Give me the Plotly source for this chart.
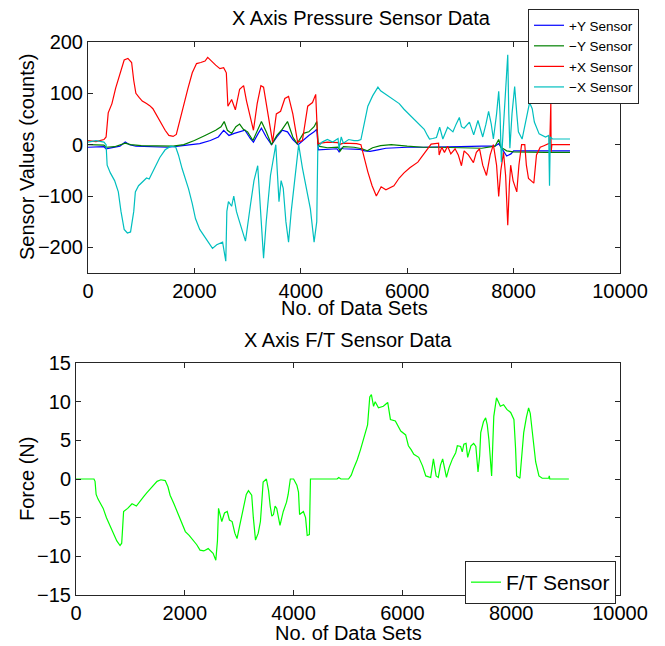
import plotly.graph_objects as go

# ---------------- Pressure sensor traces (counts vs. data set index) ----------------
py_pos_x = [0, 300, 340, 450, 600, 700, 780, 900, 1200, 1500, 1700, 1900, 2100, 2300, 2450, 2550,
            2650, 2750, 2850, 2950, 3050, 3110, 3200, 3260, 3350, 3450, 3550, 3650, 3750, 3850, 3950,
            4050, 4150, 4250, 4300, 4330, 4500, 4680, 4720, 4760, 4800, 5100, 5200, 5300, 5450, 5600,
            5800, 6000, 6300, 6600, 7000, 7400, 7650, 7720, 7780, 7870, 7950, 8000, 8200, 8500, 9060]
py_pos_y = [-5, -4, -8, -6, -3, 5, 0, -3, -4, -5, -3, -1, 2, 8, 15, 28,
            18, 22, 25, 28, 12, 5, 22, 32, 15, 0, 15, 28, 25, 10, 0,
            10, 18, 25, 30, -10, -9, -8, -14, -7, -8, -9, -12, -13, -10, -7,
            -6, -5, -5, -4, -4, -3, -3, 2, -8, -22, -18, -12, -12, -12, -12]

ny_neg_x = [0, 300, 340, 500, 700, 800, 1000, 1300, 1600, 1800, 2000, 2200, 2400, 2500, 2560, 2620,
            2700, 2780, 2850, 2920, 3000, 3100, 3200, 3260, 3350, 3450, 3550, 3650, 3750, 3850, 3930,
            4050, 4150, 4250, 4300, 4330, 4500, 4700, 4740, 4800, 5000, 5150, 5250, 5350, 5500, 5700,
            6000, 6300, 6600, 7000, 7400, 7650, 7720, 7760, 7870, 8000, 8300, 8600, 9060]
ny_neg_y = [0, -1, -5, -4, 3, 0, -2, -3, -3, 0, 8, 18, 28, 35, 45, 28,
            22, 35, 40, 30, 25, 8, 30, 45, 25, 0, 18, 30, 45, 15, 2,
            22, 25, 35, 45, -3, -6, -5, -12, -4, -5, -8, -12, -6, -2, 0,
            -3, -5, -5, -6, -7, -3, 10, -5, -12, -14, -15, -15, -15]

px_pos_x = [0, 150, 300, 340, 380, 450, 520, 600, 680, 750, 820, 860, 900, 960, 1020, 1100, 1160,
            1220, 1300, 1380, 1450, 1520, 1600, 1660, 1720, 1800, 1880, 1960, 2040, 2120, 2200, 2250,
            2320, 2400, 2480, 2550, 2600, 2630, 2700, 2770, 2850, 2925, 2980, 3050, 3110, 3180, 3250,
            3300, 3380, 3470, 3540, 3620, 3700, 3770, 3850, 3940, 4030, 4130, 4220, 4280, 4320, 4500,
            4700, 4720, 4800, 5050, 5130, 5200, 5260, 5340, 5420, 5510, 5600, 5750, 5850, 5940, 6050,
            6200, 6300, 6400, 6450, 6590, 6600, 6650, 6700, 6760, 6820, 6900, 6960, 7020, 7070, 7150,
            7245, 7300, 7360, 7420, 7490, 7560, 7620, 7680, 7720, 7760, 7810, 7850, 7890, 7920, 7945,
            7990, 8060, 8100, 8150, 8210, 8240, 8280, 8380, 8430, 8500, 8570, 8680, 8700, 8705, 8720,
            9060]
px_pos_y = [8, 6, 10, 15, 62, 80, 110, 140, 165, 168, 160, 125, 100, 92, 85, 80, 76,
            70, 55, 40, 28, 18, 16, 20, 45, 80, 110, 140, 158, 160, 163, 170,
            162, 155, 148, 150, 140, 75, 88, 68, 108, 115, 85, 55, 28, 80, 115,
            112, 60, 5, 60, 65, 90, 94, 60, 5, 8, 75, 82, 98, 2, 5,
            4, 0, 3, 2, 0, -30, -53, -80, -100, -82, -88, -80, -65, -55, -45,
            -34, -20, -8, 1, 3, -20, -5, -15, -3, -18, -8, -20, -41, -12, -20,
            -35, -15, -8, -40, -60, -20, 0, -40, -101, -50, -15, -60, -157, -80, -40,
            -70, -92, -40, 0, 0, -40, -66, -75, -20, -5, -2, 3, 82, -14, 0,
            0]

nx_neg_x = [0, 150, 300, 340, 360, 420, 500, 570, 620, 680, 740, 800, 860, 890, 950, 1020, 1100,
            1150, 1220, 1260, 1350, 1450, 1560, 1650, 1700, 1770, 1890, 1960, 2020, 2100, 2210, 2280,
            2340, 2420, 2530, 2590, 2610, 2640, 2700, 2740, 2790, 2830, 2900, 2960, 3050, 3120, 3190,
            3240, 3280, 3300, 3350, 3430, 3530, 3560, 3590, 3630, 3670, 3720, 3770, 3820, 3870, 3960,
            4030, 4100, 4180, 4250, 4300, 4320, 4400, 4500, 4600, 4700, 4720, 4760, 4800, 4900, 5000,
            5075, 5130, 5200, 5260, 5350, 5450, 5500, 5570, 5650, 5760, 5850, 5940, 6030, 6130, 6230,
            6320, 6380, 6420, 6480, 6550, 6610, 6670, 6760, 6860, 6920, 6980, 7020, 7070, 7170, 7250,
            7330, 7380, 7420, 7480, 7530, 7580, 7620, 7680, 7720, 7745, 7770, 7800, 7850, 7890, 7910,
            7930, 7970, 8020, 8060, 8090, 8160, 8230, 8300, 8350, 8390, 8480, 8600, 8660, 8675, 8690,
            8730, 9060]
nx_neg_y = [5, 8, 5, 0, -40, -55, -70, -92, -130, -165, -172, -170, -130, -92, -80, -73, -65,
            -67, -52, -41, -25, -10, -3, -5, -20, -47, -86, -115, -144, -165, -182, -192,
            -202, -195, -190, -227, -130, -111, -120, -100, -130, -144, -170, -188, -120, -70, -41,
            -130, -208, -221, -150, -60, 0, -60, -111, -70, -85, -150, -190, -130, -85, 0,
            -45, -80, -125, -190, -150, -5, 5, 10, 5, 12, -8, 15, 3, 10, 8,
            8, 10, 45, 75, 95, 112, 105, 100, 95, 88, 80, 69, 60, 50, 40,
            30, 18, 11, 12, 14, 34, 11, 34, 25, 40, 53, 35, 32, 44, 19,
            47, 30, 15, 40, 65, 40, 11, 60, 104, 60, -34, 20, 110, 175, 60,
            -7, 60, 113, 60, 25, 11, 50, 82, 70, 44, 21, 15, 18, -80, 15,
            11, 11]

# ---------------- Force/torque sensor (N) ----------------
ft_x = [0, 330, 350, 370, 405, 450, 500, 560, 625, 690, 750, 810, 840, 860, 875, 950, 1030, 1110,
        1180, 1240, 1300, 1360, 1430, 1490, 1560, 1640, 1690, 1730, 1800, 1860, 1930, 2010, 2080,
        2150, 2220, 2280, 2350, 2430, 2480, 2520, 2570, 2600, 2620, 2650, 2680, 2730, 2780, 2820,
        2870, 2920, 2960, 3010, 3080, 3130, 3170, 3230, 3260, 3300, 3350, 3390, 3420, 3440, 3500,
        3540, 3570, 3600, 3630, 3660, 3690, 3720, 3750, 3810, 3870, 3900, 3940, 4000, 4060, 4090,
        4110, 4180, 4220, 4250, 4290, 4310, 4800, 4830, 4870, 5010, 5060, 5100, 5170, 5230, 5270,
        5330, 5360, 5400, 5430, 5470, 5500, 5560, 5650, 5730, 5780, 5870, 5920, 5970, 6060, 6110,
        6160, 6210, 6300, 6370, 6430, 6520, 6570, 6620, 6660, 6700, 6740, 6780, 6810, 6860, 6920,
        6980, 7010, 7070, 7100, 7130, 7170, 7200, 7260, 7310, 7350, 7390, 7420, 7440, 7490, 7530,
        7560, 7590, 7620, 7640, 7680, 7730, 7770, 7800, 7860, 7920, 7990, 8050, 8080, 8100, 8160,
        8200, 8230, 8280, 8320, 8350, 8400, 8450, 8510, 8570, 8690, 8700, 8710, 9060]
ft_y = [0, 0, -0.3, -2.0, -2.6, -3.2, -3.8, -5.0, -6.0, -7.2, -8.0, -8.6, -8.3, -6.0, -4.2, -3.8, -3.2, -3.5,
        -2.8, -2.3, -1.8, -1.3, -0.8, -0.3, -0.1, -0.2, -1.0, -2.1, -3.2, -4.2, -5.5, -6.8, -7.3,
        -7.9, -8.5, -9.2, -9.3, -9.0, -9.3, -9.6, -10.5, -8.0, -3.8, -4.5, -5.5, -4.4, -4.2, -5.3,
        -5.5, -7.0, -7.7, -6.0, -3.5, -2.0, -1.5, -2.1, -5.0, -7.9, -7.0, -5.5, -2.5, -0.4, 0,
        -1.5, -3.5, -4.8, -4.6, -3.5, -3.8, -5.0, -6.0, -4.2, -3.0, -2.0, 0, 0, -0.8, -1.7,
        -4.6, -4.2, -5.0, -7.3, -7.2, 0, 0, 0.2, 0, 0, 0.5, 1.3, 2.5, 3.8, 4.7,
        6.2, 7.0, 10.6, 10.9, 9.4, 10.0, 9.2, 9.4, 9.9, 7.7, 7.5, 6.8, 6.2, 5.7, 4.3,
        3.8, 3.2, 2.8, 1.7, 0.4, 0.2, 2.6, 0.4, 0.2, 1.8, 2.6, 1.0, 0.2, 1.5, 2.6,
        3.4, 4.3, 4.2, 3.5, 4.5, 4.6, 2.8, 4.3, 4.6, 4.2, 0.9, 3.0, 6.0, 7.4, 7.9,
        7.0, 5.1, 2.0, 0.4, 8.1, 10.5, 9.9, 9.4, 9.6, 9.0, 8.6, 7.7, 4.0, 0.4, 0.1,
        3.0, 6.0, 8.0, 9.2, 8.5, 5.5, 2.2, 0.4, 0.1, 0.1, 0.4, 0, 0]

x_ticks = [0, 2000, 4000, 6000, 8000, 10000]
x_tick_text = ["0", "2000", "4000", "6000", "8000", "10000"]
pressure_ticks = [-200, -100, 0, 100, 200]
force_ticks = [-15, -10, -5, 0, 5, 10, 15]

W, H = 665, 646
FONT = "Liberation Sans, Arial, Helvetica, sans-serif"
AX = "#262626"

fig = go.Figure()
series = [
    (py_pos_x, py_pos_y, "+Y Sensor", "#0000ff"),
    (ny_neg_x, ny_neg_y, "\u2212Y Sensor", "#008000"),
    (px_pos_x, px_pos_y, "+X Sensor", "#ff0000"),
    (nx_neg_x, nx_neg_y, "\u2212X Sensor", "#00bfbf"),
]
for xs, ys, name, color in series:
    fig.add_trace(go.Scatter(x=xs, y=ys, mode="lines", name=name,
                             line=dict(color=color, width=1.2),
                             xaxis="x", yaxis="y", legend="legend"))
fig.add_trace(go.Scatter(x=ft_x, y=ft_y, mode="lines", name="F/T Sensor",
                         line=dict(color="#00ff00", width=1.2),
                         xaxis="x2", yaxis="y2", legend="legend2"))


def px_x(p):
    return p / W


def px_y(p):
    return 1 - p / H


axis_common = dict(showline=True, linecolor=AX, linewidth=1, mirror="ticks",
                   ticks="inside", ticklen=5, tickcolor=AX, tickwidth=1,
                   showgrid=False, zeroline=False, automargin=False,
                   tickfont=dict(family=FONT, size=20, color="#000"))

fig.update_layout(
    width=W, height=H, margin=dict(l=0, r=0, t=0, b=0, autoexpand=False),
    paper_bgcolor="white", plot_bgcolor="white",
    font=dict(family=FONT, color="#000"),
    xaxis=dict(domain=[px_x(88), px_x(620)], range=[0, 10000], tickvals=x_ticks,
               ticktext=x_tick_text, anchor="y", **axis_common),
    yaxis=dict(domain=[px_y(273), px_y(42)], range=[-250, 200], tickvals=pressure_ticks,
               anchor="x", **axis_common),
    xaxis2=dict(domain=[px_x(76), px_x(620)], range=[0, 10000], tickvals=x_ticks,
                ticktext=x_tick_text, anchor="y2", **axis_common),
    yaxis2=dict(domain=[px_y(595), px_y(363)], range=[-15, 15], tickvals=force_ticks,
                anchor="x2", **axis_common),
    legend=dict(x=px_x(528), y=px_y(9), xanchor="left", yanchor="top",
                bgcolor="white", bordercolor=AX, borderwidth=1,
                font=dict(family=FONT, size=13.5, color="#000"),
                tracegroupgap=0, itemwidth=30),
    legend2=dict(x=px_x(465), y=px_y(561), xanchor="left", yanchor="top",
                 bgcolor="white", bordercolor=AX, borderwidth=1,
                 font=dict(family=FONT, size=21, color="#000"), itemwidth=30),
    showlegend=True,
)

text_items = [
    ("X Axis Pressure Sensor Data", 361, 18, 0),
    ("No. of Data Sets", 354, 308, 0),
    ("Sensor Values (counts)", 27, 157, -90),
    ("X Axis F/T Sensor Data", 348, 340, 0),
    ("No. of Data Sets", 348, 633, 0),
    ("Force (N)", 27, 479, -90),
]
for txt, cx, cy, ang in text_items:
    fig.add_annotation(text=txt, x=px_x(cx), y=px_y(cy), xref="paper", yref="paper",
                       xanchor="center", yanchor="middle", showarrow=False, textangle=ang,
                       font=dict(family=FONT, size=20, color="#000"))

fig.write_html("out.html")
